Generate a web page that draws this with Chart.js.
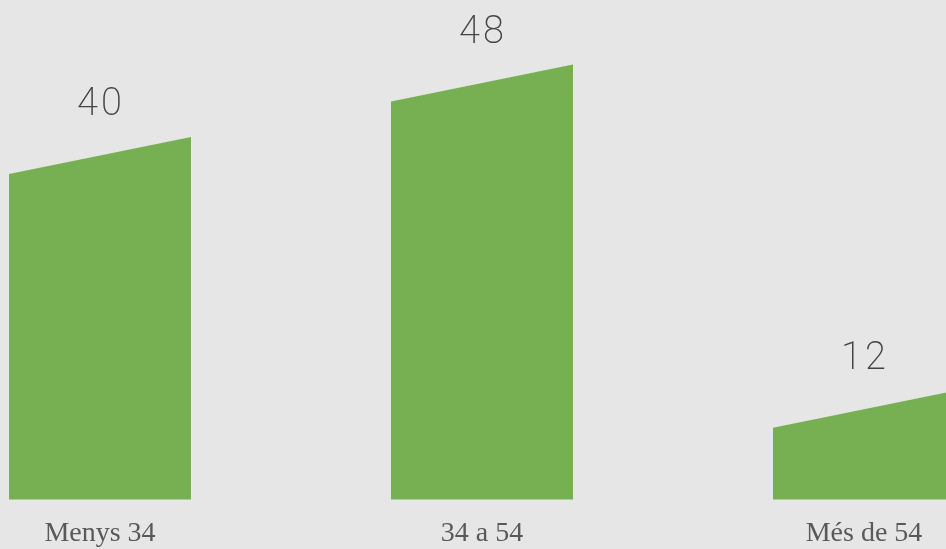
<!DOCTYPE html>
<html>
<head>
<meta charset="utf-8">
<script src="https://cdn.jsdelivr.net/npm/chart.js@4/dist/chart.umd.min.js"></script>
<style>
  html, body { margin: 0; padding: 0; background: #e6e6e6; overflow: hidden; }
  #wrap { position: absolute; left: -91px; top: 0; width: 1146px; height: 549px; }
</style>
</head>
<body>
<div id="wrap"><canvas id="chart" width="1146" height="549"></canvas></div>
<script>
const categories = ['Menys 34', '34 a 54', 'Més de 54'];
const values = [40, 48, 12];

const barColor = '#77b052';
const slant = 37; // left edge sits lower than the right one

// draws the slanted bars and the value labels from the bar elements
const slantedBars = {
  id: 'slantedBars',
  afterDatasetsDraw(chart) {
    const ctx = chart.ctx;
    const meta = chart.getDatasetMeta(0);
    ctx.save();
    meta.data.forEach((bar, i) => {
      const left = bar.x - bar.width / 2;
      const right = bar.x + bar.width / 2;
      ctx.fillStyle = barColor;
      ctx.beginPath();
      ctx.moveTo(left, bar.base);
      ctx.lineTo(left, bar.y + slant);
      ctx.lineTo(right, bar.y);
      ctx.lineTo(right, bar.base);
      ctx.closePath();
      ctx.fill();

      ctx.fillStyle = '#444444';
      ctx.font = '200 38px Roboto';
      ctx.letterSpacing = '3px';
      ctx.textAlign = 'center';
      ctx.textBaseline = 'middle';
      ctx.fillText(String(values[i]), bar.x + 1, bar.y - 31);
    });
    ctx.restore();
  }
};

new Chart('chart', {
  type: 'bar',
  data: {
    labels: categories,
    datasets: [{
      data: values,
      backgroundColor: 'rgba(0,0,0,0)',
      barPercentage: 0.4764,
      categoryPercentage: 1
    }]
  },
  options: {
    responsive: false,
    animation: false,
    layout: { padding: { top: 10, left: 0, right: 0, bottom: -18 } },
    plugins: { legend: { display: false }, tooltip: { enabled: false } },
    scales: {
      x: {
        grid: { display: false, drawTicks: false },
        border: { display: false },
        ticks: {
          padding: 17,
          color: '#595959',
          font: { family: 'Liberation Serif', size: 28 }
        }
      },
      y: {
        display: false,
        min: 0,
        max: 54
      }
    }
  },
  plugins: [slantedBars]
});
</script>
</body>
</html>
